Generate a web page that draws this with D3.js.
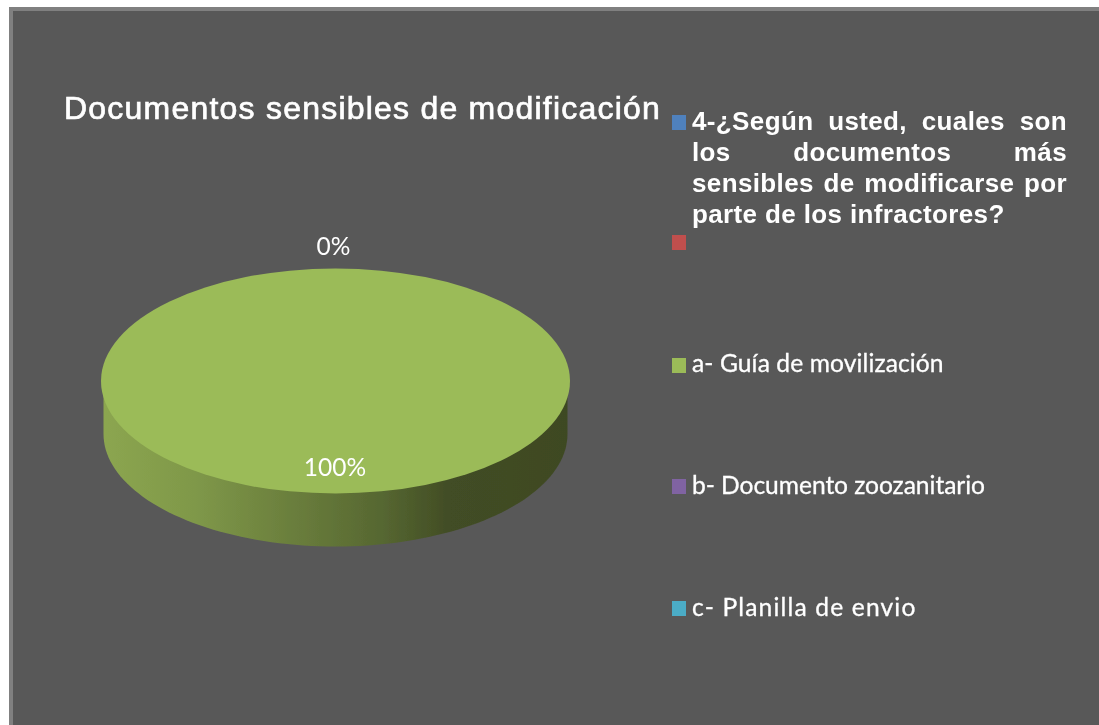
<!DOCTYPE html>
<html><head><meta charset="utf-8">
<script src="https://cdn.jsdelivr.net/npm/d3@7"></script>
<style>html,body{margin:0;padding:0;background:#fff;overflow:hidden}svg{display:block}</style>
</head><body><svg id="c" width="1099" height="725"></svg>
<script>
const titleText = "Documentos sensibles de modificación";
const categories = ["4-¿Según usted, cuales son los documentos más sensibles de modificarse por parte de los infractores?", "", "a- Guía de movilización", "b- Documento zoozanitario", "c- Planilla de envio"];
const values = [0, 0, 100, 0, 0];
const colors = ["#4f81bd", "#c0504d", "#9bbb59", "#8064a2", "#4bacc6"];
const headerLines = ["4-¿Según usted, cuales son", "los documentos más", "sensibles de modificarse por", "parte de los infractores?"];

const svg = d3.select("#c");
const defs=svg.append("defs");
defs.append("filter").attr("id","soft").attr("x","-5%").attr("y","-5%").attr("width","110%").attr("height","110%")
  .append("feGaussianBlur").attr("stdDeviation",0.45);

svg.append("rect").attr("x",9).attr("y",7).attr("width",1090).attr("height",718).attr("fill","#808080");
svg.append("rect").attr("x",13).attr("y",11).attr("width",1086).attr("height",714).attr("fill","#585858");
const root=svg.append("g").attr("filter","url(#soft)");

const cx=335.5, cy=381, rx=234.5, ry=112.5, depth=53;
const pie=d3.pie().sort(null).value(d=>d)(values);
const arc=d3.arc().innerRadius(0).outerRadius(rx);

const stops=[[0,"#8ca650"],[0.2,"#7f9849"],[0.45,"#66793a"],[0.6,"#566731"],[0.74,"#424d25"],[1,"#3e4923"]];
const grad=defs.append("linearGradient").attr("id","side").attr("gradientUnits","userSpaceOnUse")
  .attr("x1",cx-rx).attr("x2",cx+rx).attr("y1",0).attr("y2",0);
stops.forEach(s=>grad.append("stop").attr("offset",s[0]).attr("stop-color",s[1]));

const sideRx=rx-2.5;
const lower=d3.range(0,181,2).map(a=>{const t=a*Math.PI/180;return [cx+sideRx*Math.cos(t),cy+depth+ry*Math.sin(t)];});
root.append("path").attr("fill","url(#side)")
  .attr("d",`M${cx-sideRx},${cy}L${cx+sideRx},${cy}`+d3.line()(lower).replace("M","L")+"Z");

root.append("g").attr("transform",`translate(${cx},${cy}) scale(1,${ry/rx})`)
  .selectAll("path").data(pie).join("path")
  .attr("d",arc).attr("fill",(d,i)=>colors[i]);

const label=(x,y,v)=>root.append("text").attr("x",x).attr("y",y).attr("text-anchor","middle").attr("fill","#fff")
  .attr("font-family","Lato").attr("font-size",24.5).text(d3.format(".0%")(v/d3.sum(values)));
label(333.5,255,values[0]);
label(335,476,values[2]);

root.append("text").attr("x",64).attr("y",119).attr("fill","#fff").attr("stroke","#fff").attr("stroke-width",0.7)
  .attr("font-family","Liberation Sans").attr("font-size",32).attr("letter-spacing",1.22).text(titleText);

const swatchY=[122,242,365,486,608];
colors.forEach((c,i)=>root.append("rect").attr("x",672).attr("y",swatchY[i]-7).attr("width",14).attr("height",15).attr("fill",c));

const L=692,R=1067;
headerLines.forEach((ln,i)=>{
  const t=root.append("text").attr("x",L).attr("y",[130,161,192,223][i]).attr("fill","#fff")
    .attr("font-family","Liberation Sans").attr("font-weight","bold").attr("font-size",26).attr("letter-spacing",0.37).text(ln);
  if(i<3){
    const w=t.node().getComputedTextLength();
    const gaps=ln.split(" ").length-1;
    t.attr("word-spacing",(R-L-w)/gaps);
  }
});
const rows=[[2,372,0.1],[3,494,-0.05],[4,616,1.15]];
rows.forEach(r=>root.append("text").attr("x",692).attr("y",r[1]).attr("fill","#fff").attr("stroke","#fff").attr("stroke-width",0.3)
  .attr("font-family","Lato").attr("font-size",24.6).attr("letter-spacing",r[2]).text(categories[r[0]]));
</script></body></html>
